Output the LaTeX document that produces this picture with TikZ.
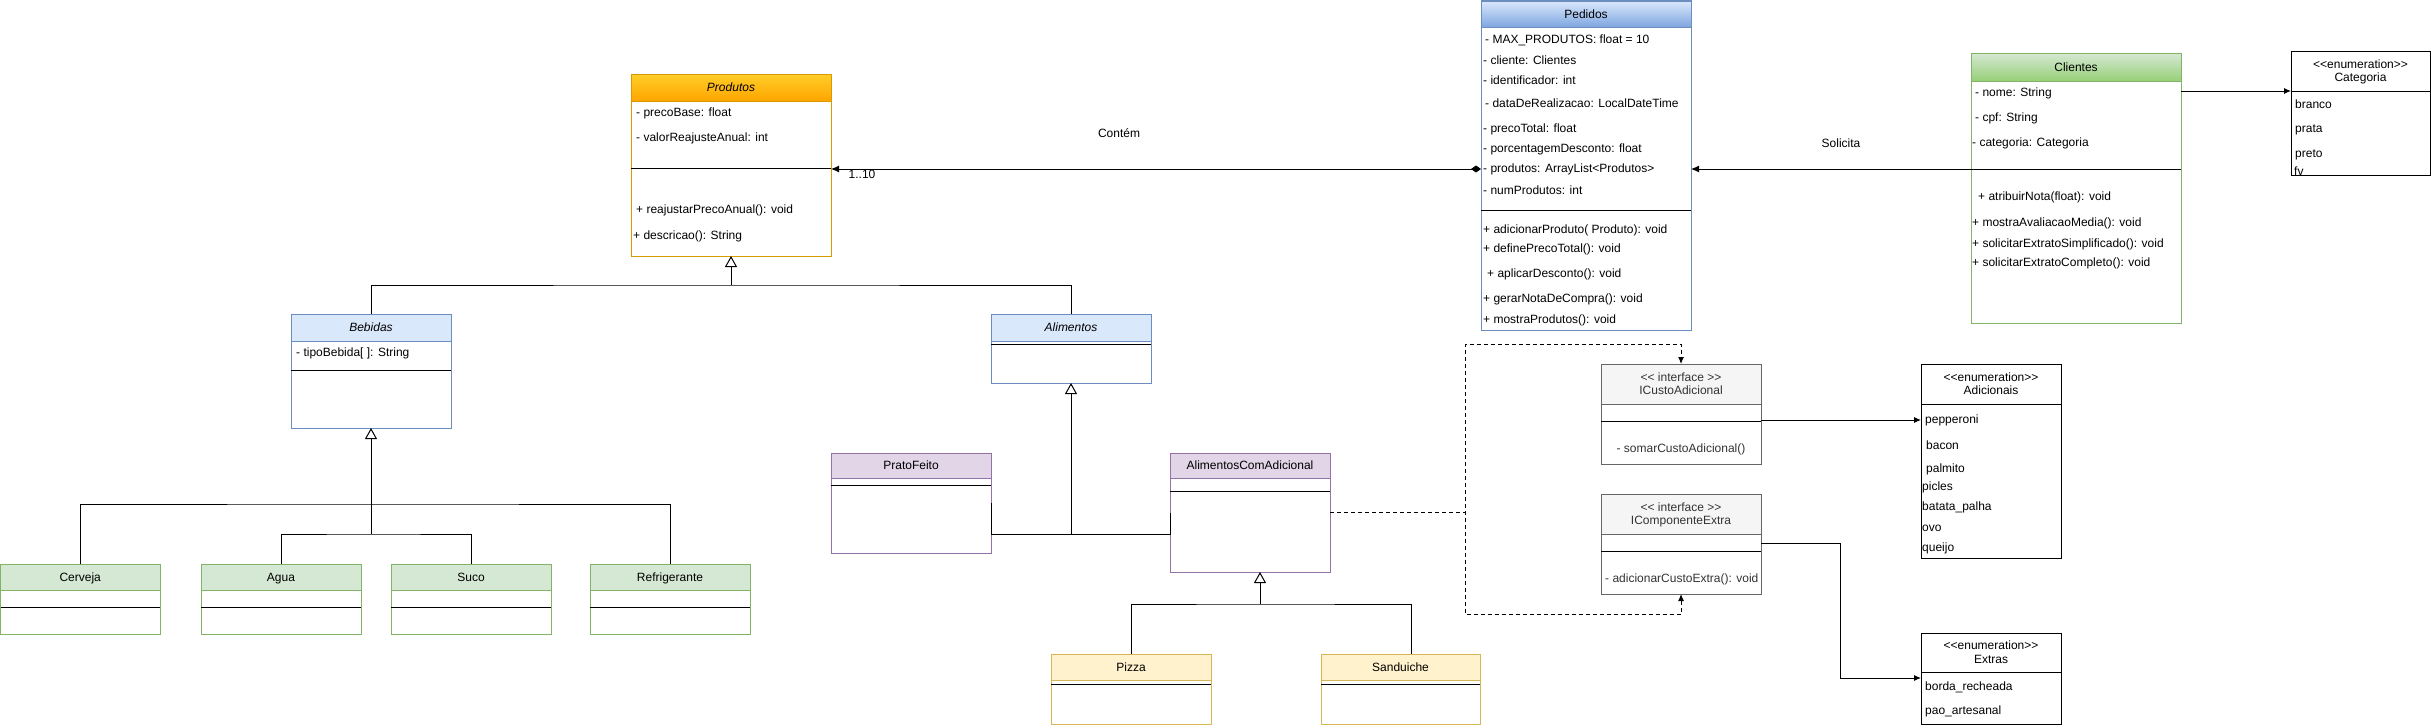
\documentclass[tikz,border=0pt]{standalone}
\usepackage{fontspec}
\setmainfont{Liberation Sans}
\usepackage{xcolor}
\usepackage{tikz}
\usetikzlibrary{positioning, arrows.meta, fit, calc}

\definecolor{prodTop}{HTML}{FFCD28}
\definecolor{prodBot}{HTML}{FFA500}
\definecolor{prodLine}{HTML}{D79B00}
\definecolor{blueFill}{HTML}{DAE8FC}
\definecolor{blueDark}{HTML}{7EA6E0}
\definecolor{blueLine}{HTML}{6C8EBF}
\definecolor{greenFill}{HTML}{D5E8D4}
\definecolor{greenDark}{HTML}{97D077}
\definecolor{greenLine}{HTML}{82B366}
\definecolor{lilacFill}{HTML}{E1D5E7}
\definecolor{lilacLine}{HTML}{9673A6}
\definecolor{yellowFill}{HTML}{FFF2CC}
\definecolor{yellowLine}{HTML}{D6B656}
\definecolor{greyFill}{HTML}{F5F5F5}
\definecolor{greyLine}{HTML}{666666}
\definecolor{greyText}{HTML}{333333}

\begin{document}
\begin{tikzpicture}[x=1pt, y=-1pt,
    every node/.style={font=\fontsize{12}{14}\selectfont},
    cls/.style={draw, line width=1pt, inner sep=0pt, outer sep=0pt, fill=white},
    title/.style={inner sep=0pt, align=center, font=\fontsize{12}{13.5}\selectfont, yshift=-1.5pt,
                  execute at begin node=\strut, execute at end node=\strut},
    row/.style={anchor=west, inner sep=0pt},
    sepline/.style={line width=1pt},
    link/.style={line width=1pt},
    gen/.style={line width=1pt, -{Triangle[open, length=11pt, width=12pt, fill=white]}},
    assoc/.style={line width=1pt, -{Latex[length=8pt, width=7pt]}},
    comp/.style={line width=1pt, {Diamond[length=10pt, width=7pt]}-{Latex[length=8pt, width=7pt]}},
    enum/.style={line width=1pt, -{Latex[length=7pt, width=6pt]}},
    real/.style={line width=1pt, dash pattern=on 4pt off 3pt, -{Latex[length=7pt, width=6pt]}}
]
\useasboundingbox (0,0) rectangle (2431,728);

% Produtos
\node[cls, draw=prodLine, fit={(631,74)(831,256)}] (produtos) {};
\node[cls, draw=prodLine, top color=prodTop, bottom color=prodBot, fit={(631,74)(831,101)}] (produtosT) {};
\node[title] (produtosL) at (produtosT.center) {\textit{Produtos}};
\draw[sepline] (produtos.west |- 0,168) -- (produtos.east |- 0,168);
\foreach \x/\y/\t [count=\i] in {636/113/{- precoBase: float}, 636/138/{- valorReajusteAnual: int},
    636/210/{+ reajustarPrecoAnual(): void}, 633/236/{+ descricao(): String}}
    \node[row] (prod\i) at (\x,\y) {\t};

% Pedidos
\node[cls, draw=blueLine, fit={(1481,1)(1691,330)}] (pedidos) {};
\node[cls, draw=blueLine, top color=blueFill, bottom color=blueDark, fit={(1481,1)(1691,27)}] (pedidosT) {};
\node[title] (pedidosL) at (pedidosT.center) {Pedidos};
\draw[sepline] (pedidos.west |- 0,210) -- (pedidos.east |- 0,210);
\foreach \x/\y/\t [count=\i] in {1485/40/{- MAX\_PRODUTOS: float = 10}, 1483/60/{- cliente: Clientes},
    1483/80/{- identificador: int}, 1485/103/{- dataDeRealizacao: LocalDateTime},
    1483/129/{- precoTotal: float}, 1483/149/{- porcentagemDesconto: float},
    1483/169/{- produtos: ArrayList<Produtos>}, 1483/190/{- numProdutos: int},
    1483/230/{+ adicionarProduto( Produto): void}, 1483/249/{+ definePrecoTotal(): void},
    1487/274/{+ aplicarDesconto(): void}, 1483/299/{+ gerarNotaDeCompra(): void},
    1483/320/{+ mostraProdutos(): void}}
    \node[row] (ped\i) at (\x,\y) {\t};

% Clientes
\node[cls, draw=greenLine, fit={(1971,53)(2181,323)}] (clientes) {};
\node[cls, draw=greenLine, top color=greenFill, bottom color=greenDark, fit={(1971,53)(2181,81)}] (clientesT) {};
\node[title] (clientesL) at (clientesT.center) {Clientes};
\draw[sepline] (clientes.west |- 0,169) -- (clientes.east |- 0,169);
\foreach \x/\y/\t [count=\i] in {1975/93/{- nome: String}, 1975/118/{- cpf: String},
    1972/143/{- categoria: Categoria}, 1978/197/{+ atribuirNota(float): void},
    1972/223/{+ mostraAvaliacaoMedia(): void}, 1972/244/{+ solicitarExtratoSimplificado(): void},
    1972/263/{+ solicitarExtratoCompleto(): void}}
    \node[row] (cli\i) at (\x,\y) {\t};

% Categoria
\node[cls, fit={(2291,51)(2430,175)}] (categoria) {};
\node[cls, fit={(2291,51)(2430,91)}] (categoriaT) {};
\node[title] (categoriaL) at (categoriaT.center) {<{}<enumeration>{}>\\Categoria};
\foreach \x/\y/\t [count=\i] in {2295/104/branco, 2295/130/prata, 2295/155/preto, 2294/171/fv}
    \node[row] (cat\i) at (\x,\y) {\t};

% Bebidas e Alimentos
\node[cls, draw=blueLine, fit={(291,314)(451,428)}] (bebidas) {};
\node[cls, draw=blueLine, fill=blueFill, fit={(291,314)(451,341)}] (bebidasT) {};
\node[title] (bebidasL) at (bebidasT.center) {\textit{Bebidas}};
\draw[sepline] (bebidas.west |- 0,370) -- (bebidas.east |- 0,370);
\node[row] (beb1) at (296,353) {- tipoBebida[ ]: String};

\node[cls, draw=blueLine, fit={(991,314)(1151,383)}] (alimentos) {};
\node[cls, draw=blueLine, fill=blueFill, fit={(991,314)(1151,341)}] (alimentosT) {};
\node[title] (alimentosL) at (alimentosT.center) {\textit{Alimentos}};
\draw[sepline] (alimentos.west |- 0,344) -- (alimentos.east |- 0,344);

% PratoFeito, AlimentosComAdicional
\node[cls, draw=lilacLine, fit={(831,453)(991,553)}] (prato) {};
\node[cls, draw=lilacLine, fill=lilacFill, fit={(831,453)(991,478)}] (pratoT) {};
\node[title] (pratoL) at (pratoT.center) {PratoFeito};
\draw[sepline] (prato.west |- 0,485) -- (prato.east |- 0,485);

\node[cls, draw=lilacLine, fit={(1170,453)(1330,572)}] (aca) {};
\node[cls, draw=lilacLine, fill=lilacFill, fit={(1170,453)(1330,478)}] (acaT) {};
\node[title] (acaL) at (acaT.center) {AlimentosComAdicional};
\draw[sepline] (aca.west |- 0,491) -- (aca.east |- 0,491);

% Pizza, Sanduiche
\node[cls, draw=yellowLine, fit={(1051,654)(1211,724)}] (pizza) {};
\node[cls, draw=yellowLine, fill=yellowFill, fit={(1051,654)(1211,680)}] (pizzaT) {};
\node[title] (pizzaL) at (pizzaT.center) {Pizza};
\draw[sepline] (pizza.west |- 0,684) -- (pizza.east |- 0,684);

\node[cls, draw=yellowLine, fit={(1321,654)(1480,724)}] (sanduiche) {};
\node[cls, draw=yellowLine, fill=yellowFill, fit={(1321,654)(1480,680)}] (sanduicheT) {};
\node[title] (sanduicheL) at (sanduicheT.center) {Sanduiche};
\draw[sepline] (sanduiche.west |- 0,684) -- (sanduiche.east |- 0,684);

% bebidas concretas
\foreach \n/\a/\b/\t in {cerveja/0.5/160/Cerveja, agua/201/361/Agua, suco/391/551/Suco, refri/590/750/Refrigerante} {
    \node[cls, draw=greenLine, fit={(\a,564)(\b,634)}] (\n) {};
    \node[cls, draw=greenLine, fill=greenFill, fit={(\a,564)(\b,590)}] (\n T) {};
    \node[title] (\n L) at (\n T.center) {\t};
    \draw[sepline] (\n.west |- 0,607) -- (\n.east |- 0,607);
}

% interfaces
\node[cls, draw=greyLine, fit={(1601,364)(1761,464)}] (icusto) {};
\node[cls, draw=greyLine, fill=greyFill, fit={(1601,364)(1761,404)}] (icustoT) {};
\node[title, text=greyText] (icustoL) at (icustoT.center) {<{}< interface >{}>\\ICustoAdicional};
\draw[sepline] (icusto.west |- 0,421) -- (icusto.east |- 0,421);
\node[text=greyText, inner sep=0pt] (icusto1) at (1681,449) {- somarCustoAdicional()};

\node[cls, draw=greyLine, fit={(1601,494)(1761,594)}] (icomp) {};
\node[cls, draw=greyLine, fill=greyFill, fit={(1601,494)(1761,534)}] (icompT) {};
\node[title, text=greyText] (icompL) at (icompT.center) {<{}< interface >{}>\\IComponenteExtra};
\draw[sepline] (icomp.west |- 0,551) -- (icomp.east |- 0,551);
\node[row, text=greyText] (icomp1) at (1605,579) {- adicionarCustoExtra(): void};

% Adicionais, Extras
\node[cls, fit={(1921,364)(2061,558)}] (adicionais) {};
\node[cls, fit={(1921,364)(2061,404)}] (adicionaisT) {};
\node[title] (adicionaisL) at (adicionaisT.center) {<{}<enumeration>{}>\\Adicionais};
\foreach \x/\y/\t [count=\i] in {1925/420/pepperoni, 1926/445/bacon, 1926/469/palmito,
    1922/487/picles, 1922/507/batata\_palha, 1922/528/ovo, 1922/548/queijo}
    \node[row] (adic\i) at (\x,\y) {\t};

\node[cls, fit={(1921,633)(2061,724)}] (extras) {};
\node[cls, fit={(1921,633)(2061,672)}] (extrasT) {};
\node[title] (extrasL) at (extrasT.center) {<{}<enumeration>{}>\\Extras};
\foreach \x/\y/\t [count=\i] in {1925/687/borda\_recheada, 1925/711/pao\_artesanal}
    \node[row] (ext\i) at (\x,\y) {\t};

% associacoes
\draw[comp] (pedidos.west |- ped7) -- (produtos.east |- ped7);
\node (lContem) at (1119,133) {Contém};
\node (lMult) at (862,174) {1..10};
\draw[assoc] (clientes.west |- ped7) -- (pedidos.east |- ped7);
\node (lSolicita) at (1841,143) {Solicita};
\draw[enum] (clientes.east |- categoriaT.south west) -- (categoriaT.south west);
\draw[enum] (icusto.east |- adic1) -- (adic1 -| adicionais.west);
\coordinate (kExtra) at (1840,678);
\draw[enum] (icomp.east |- 0,543) -| (kExtra) -- (kExtra -| extras.west);

% heranca
\coordinate (jProd) at (produtos.south |- 0,285);
\draw[link] (bebidasT.north) |- (jProd) -| (alimentosT.north);
\draw[gen] (jProd) -- (produtos.south);

\coordinate (jBeb) at (bebidas.south |- 0,534);
\coordinate (jBebTop) at (bebidas.south |- 0,504);
\draw[link] (cervejaT.north) |- (jBebTop) -| (refriT.north);
\draw[link] (aguaT.north) |- (jBeb) -| (sucoT.north);
\draw[gen] (jBeb) -- (bebidas.south);

\coordinate (jAli) at (alimentos.south |- 0,534);
\draw[link] (prato.east) |- (jAli);
\draw[link] (aca.west) |- (jAli);
\draw[gen] (jAli) -- (alimentos.south);

\coordinate (jAca) at (1260,604);
\draw[link] (pizzaT.north) |- (jAca) -| ([xshift=11pt]sanduicheT.north);
\draw[gen] (jAca) -- (jAca |- aca.south);

% realizacao
\coordinate (kUp) at (1465,344);
\coordinate (kDown) at (1465,614);
\draw[real] (aca.east) -| (kUp) -| (icusto.north);
\draw[real] (aca.east) -| (kDown) -| (icomp.south);
\end{tikzpicture}
\end{document}
